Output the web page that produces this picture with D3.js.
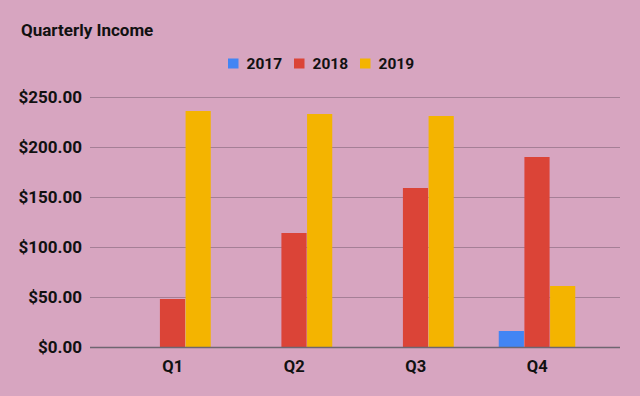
<!DOCTYPE html>
<html lang="en">
<head>
<meta charset="UTF-8">
<title>Quarterly Income</title>
<script src="https://cdn.jsdelivr.net/npm/d3@7/dist/d3.min.js"></script>
<style>
    body { margin: 0; background: #d7a5c0; }
    svg text { font-family: Roboto, sans-serif; font-weight: bold; fill: #111; }
    .grid line { stroke: #a57f96; stroke-width: 1; }
    .yaxis text { font-size: 17px; }
    .xaxis text { font-size: 16.5px; }
</style>
</head>
<body>
<script>
    // data
    const quarters = ['Q1', 'Q2', 'Q3', 'Q4'];
    const years = ['2017', '2018', '2019'];
    const values2017 = [0, 0, 0, 16];
    const values2018 = [48, 114, 159, 190];
    const values2019 = [236, 233, 231, 61];
    const yTicks = [0, 50, 100, 150, 200, 250];
    const colors = ['#4285f4', '#db4437', '#f4b400'];

    const series = [values2017, values2018, values2019];

    const width = 640, height = 396;
    const plot = {left: 90, right: 620, top: 97, bottom: 347};

    const svg = d3.select('body').append('svg')
        .attr('width', width)
        .attr('height', height);

    svg.append('rect')
        .attr('width', width)
        .attr('height', height)
        .attr('fill', '#d7a5c0');

    // scales
    const y = d3.scaleLinear()
        .domain([0, 250])
        .range([plot.bottom, plot.top]);

    const x0 = d3.scaleBand()
        .domain(quarters)
        .range([112, 598]);

    const groupWidth = 77;
    const x1 = d3.scaleBand()
        .domain(years)
        .range([0, groupWidth]);
    const groupOffset = (x0.bandwidth() - groupWidth) / 2;

    // gridlines
    svg.append('g')
        .attr('class', 'grid')
        .selectAll('line')
        .data(yTicks.filter(d => d > 0))
        .enter()
        .append('line')
        .attr('x1', plot.left)
        .attr('x2', plot.right)
        .attr('y1', d => Math.round(y(d)) + 0.5)
        .attr('y2', d => Math.round(y(d)) + 0.5);

    // y axis labels
    const yAxis = d3.axisLeft(y)
        .tickValues(yTicks)
        .tickSize(0)
        .tickPadding(8)
        .tickFormat(d => '$' + d3.format(',.2f')(d));
    svg.append('g')
        .attr('class', 'yaxis')
        .attr('transform', 'translate(' + plot.left + ',0)')
        .call(yAxis)
        .call(g => g.select('.domain').remove());

    // bars
    const groups = svg.append('g')
        .selectAll('g')
        .data(quarters)
        .enter()
        .append('g')
        .attr('transform', q => 'translate(' + (x0(q) + groupOffset) + ',0)');

    groups.selectAll('rect')
        .data((q, i) => years.map((yr, j) => ({year: yr, value: series[j][i], color: colors[j]})))
        .enter()
        .filter(d => d.value > 0)
        .append('rect')
        .attr('x', d => x1(d.year))
        .attr('width', x1.bandwidth() - 0.5)
        .attr('y', d => y(d.value))
        .attr('height', d => y(0) - y(d.value))
        .attr('fill', d => d.color);

    // baseline
    svg.append('line')
        .attr('x1', plot.left)
        .attr('x2', plot.right)
        .attr('y1', Math.round(y(0)) + 0.5)
        .attr('y2', Math.round(y(0)) + 0.5)
        .attr('stroke', '#6e6670')
        .attr('stroke-width', 1.5);

    // x axis labels
    const xAxis = d3.axisBottom(x0)
        .tickSize(0)
        .tickPadding(13);
    svg.append('g')
        .attr('class', 'xaxis')
        .attr('transform', 'translate(0,' + plot.bottom + ')')
        .call(xAxis)
        .call(g => g.select('.domain').remove());

    // title
    svg.append('text')
        .attr('x', 21)
        .attr('y', 36)
        .style('font-size', '17px')
        .text('Quarterly Income');

    // legend
    const legendX = [228, 294, 360];
    const legend = svg.append('g')
        .selectAll('g')
        .data(years)
        .enter()
        .append('g')
        .attr('transform', (d, i) => 'translate(' + legendX[i] + ',58.5)');
    legend.append('rect')
        .attr('width', 10.5)
        .attr('height', 10)
        .attr('fill', (d, i) => colors[i]);
    legend.append('text')
        .attr('x', 18.5)
        .attr('y', 10.3)
        .style('font-size', '15.5px')
        .text(d => d);
</script>
</body>
</html>
